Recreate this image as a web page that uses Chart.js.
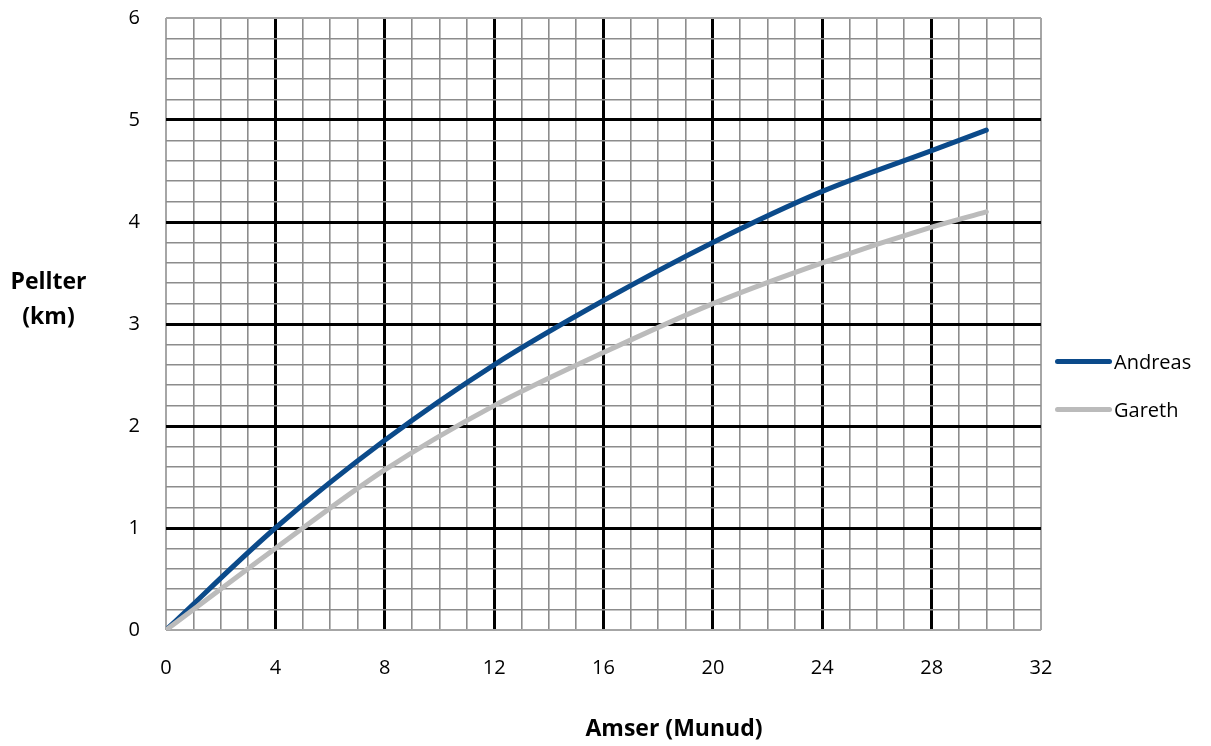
<!DOCTYPE html>
<html>
<head>
<meta charset="utf-8">
<script src="https://cdn.jsdelivr.net/npm/chart.js@4"></script>
<style>
  html, body { margin: 0; padding: 0; background: #fff; }
  #wrap { position: relative; width: 1211px; height: 746px; font-family: "Open Sans", Lato, sans-serif; }
  #c { position: absolute; left: 0; top: 0; }
  .ytitle { position: absolute; left: 0; top: 263px; width: 97px; text-align: center;
    font-weight: bold; font-size: 23px; line-height: 35px; color: #000; }
  .xtitle { position: absolute; left: 474px; top: 711px; width: 400px; text-align: center;
    font-weight: bold; font-size: 23px; line-height: 32px; color: #000; }
  .legend { position: absolute; left: 1055px; top: 337px; font-size: 20px; color: #000; }
  .legend div { display: flex; align-items: center; height: 48px; }
  .legend span.sw { display: inline-block; width: 57px; height: 5px; border-radius: 3px; margin-right: 2px; }
</style>
</head>
<body>
<div id="wrap">
  <canvas id="c" width="1211" height="746"></canvas>
  <div class="ytitle">Pellter<br>(km)</div>
  <div class="xtitle">Amser (Munud)</div>
  <div class="legend" id="legend"></div>
</div>
<script>
// Pellter yn erbyn amser — dau redwr
const minutes = [0, 4, 8, 12, 16, 20, 24, 28, 30];
const andreas = [0, 1.0, 1.86, 2.6, 3.23, 3.8, 4.3, 4.7, 4.9];
const gareth  = [0, 0.8, 1.57, 2.2, 2.72, 3.2, 3.6, 3.95, 4.1];
const seriesNames = ["Andreas", "Gareth"];
const seriesColors = ["#0B4A8A", "#BBBBBB"];
const xTicks = [0, 4, 8, 12, 16, 20, 24, 28, 32];
const yTicks = [0, 1, 2, 3, 4, 5, 6];

const TICK_FONT = { family: "'Open Sans', Lato, sans-serif", size: 20 };
const isWhole = (v, step) => Math.abs(v / step - Math.round(v / step)) < 1e-6;

function gridColor(maxV, step) {
  return (ctx) => {
    const v = ctx.tick ? ctx.tick.value : 0;
    if (Math.abs(v) < 1e-6 || Math.abs(v - maxV) < 1e-6) return "#A6A6A6";
    return isWhole(v, step) ? "#000000" : "#8C8C8C";
  };
}
function gridWidth(maxV, step) {
  return (ctx) => {
    const v = ctx.tick ? ctx.tick.value : 0;
    if (Math.abs(v) < 1e-6 || Math.abs(v - maxV) < 1e-6) return 2;
    return isWhole(v, step) ? 3 : 1.6;
  };
}

const datasets = [andreas, gareth].map((vals, i) => ({
  label: seriesNames[i],
  data: minutes.map((m, j) => ({ x: m, y: vals[j] })),
  borderColor: seriesColors[i],
  backgroundColor: seriesColors[i],
  borderWidth: 5,
  pointRadius: 0,
  cubicInterpolationMode: "monotone",
  borderCapStyle: "round",
  fill: false,
}));
datasets.reverse(); // Andreas ar ben

new Chart(document.getElementById("c"), {
  type: "line",
  data: { datasets },
  options: {
    responsive: false,
    animation: false,
    layout: { padding: { left: 0, right: 170, top: 18, bottom: 0 } },
    plugins: { legend: { display: false }, tooltip: { enabled: false } },
    scales: {
      x: {
        type: "linear", min: 0, max: 32,
        afterBuildTicks: (s) => {
          const t = [];
          for (let i = 0; i <= 32; i++) t.push({ value: i });
          s.ticks = t;
        },
        afterFit: (s) => { s.height = 116; s.paddingTop = 0; },
        ticks: {
          autoSkip: false, maxRotation: 0, padding: 26, color: "#000", font: TICK_FONT,
          callback: (v) => (xTicks.includes(v) ? String(v) : ""),
        },
        grid: { color: gridColor(32, 4), lineWidth: gridWidth(32, 4), drawTicks: false },
        border: { display: false },
      },
      y: {
        type: "linear", min: 0, max: 6,
        afterBuildTicks: (s) => {
          const t = [];
          for (let i = 0; i <= 30; i++) t.push({ value: Math.round(i * 2) / 10 });
          s.ticks = t;
        },
        afterFit: (s) => { s.width = 166; s.paddingTop = 0; s.paddingBottom = 0; },
        ticks: {
          autoSkip: false, padding: 26, color: "#000", font: TICK_FONT,
          callback: (v) => (yTicks.some((t) => Math.abs(t - v) < 1e-6) ? String(Math.round(v)) : ""),
        },
        grid: { color: gridColor(6, 1), lineWidth: gridWidth(6, 1), drawTicks: false },
        border: { display: false },
      },
    },
  },
});

// chwedl
const leg = document.getElementById("legend");
seriesNames.forEach((n, i) => {
  const row = document.createElement("div");
  row.innerHTML = `<span class="sw" style="background:${seriesColors[i]}"></span>${n}`;
  leg.appendChild(row);
});
</script>
</body>
</html>
